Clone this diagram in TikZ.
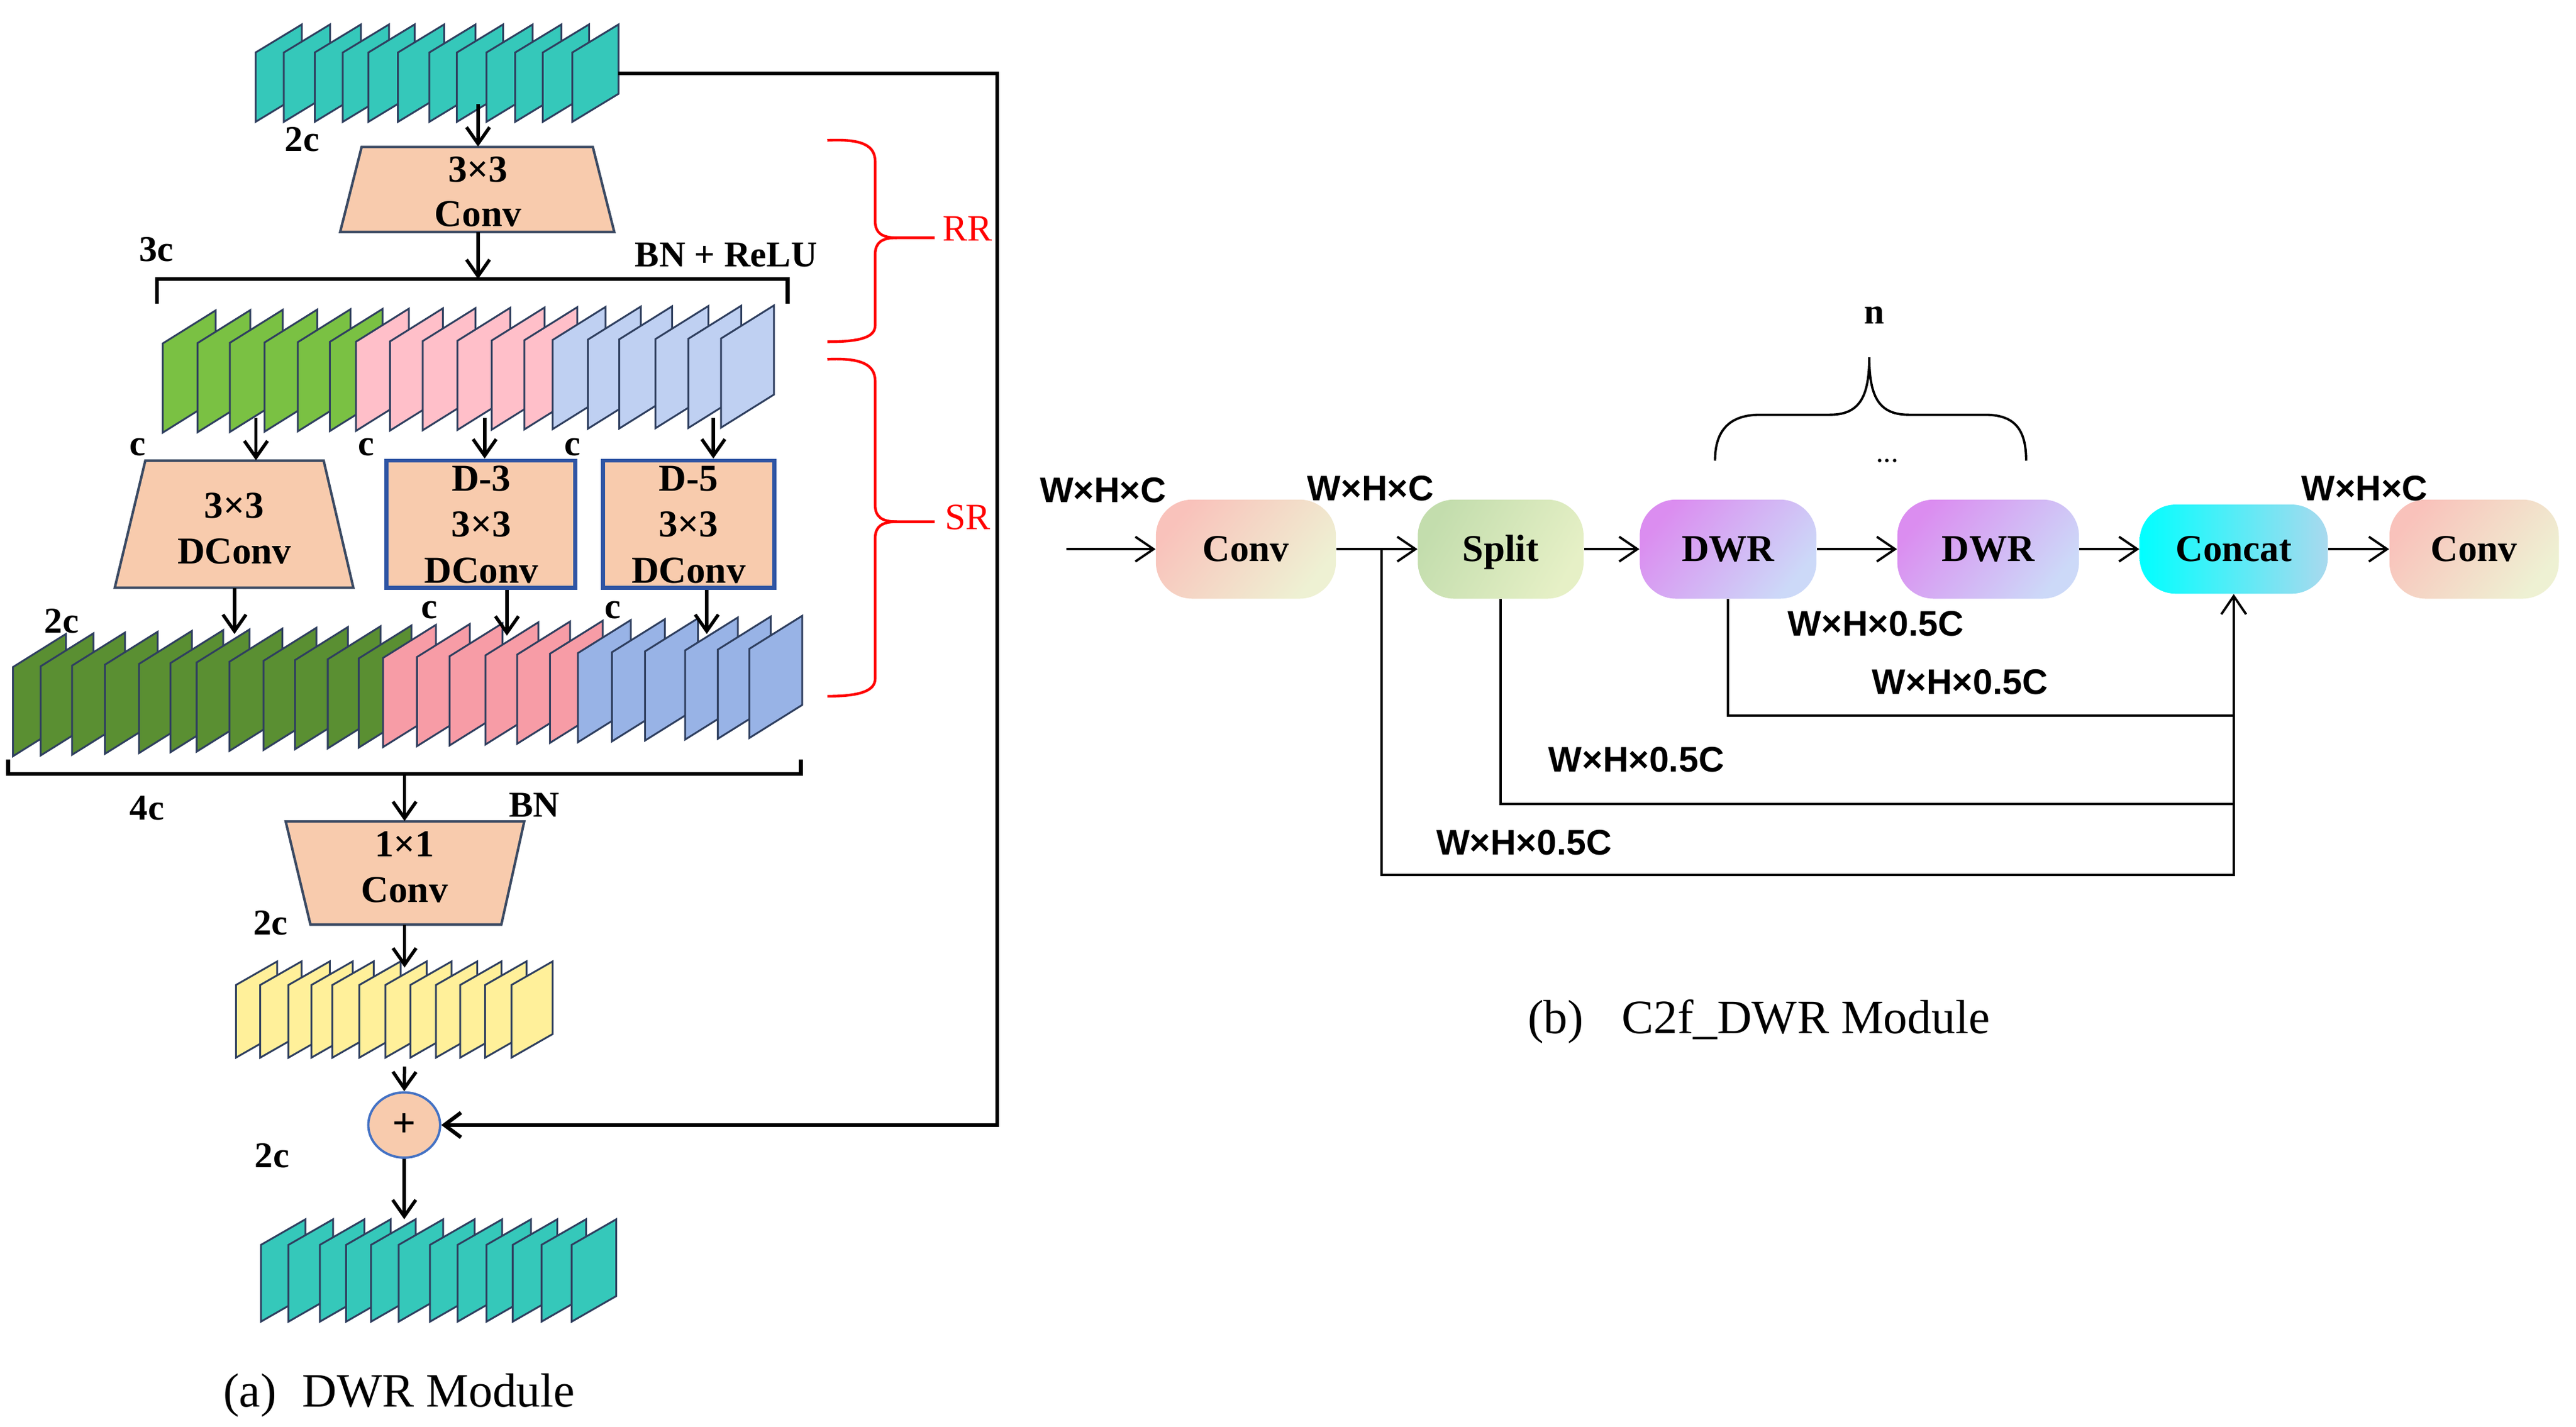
\documentclass[tikz,border=0pt]{standalone}
\usepackage{fontspec}
\setmainfont{Liberation Serif}
\newfontfamily\lsans{Liberation Sans}
\usetikzlibrary{arrows.meta,calc,shapes.geometric}
\definecolor{tealc}{HTML}{35C8BA}
\definecolor{gA}{HTML}{7AC143}
\definecolor{pA}{HTML}{FFBFC9}
\definecolor{bA}{HTML}{BFD0F2}
\definecolor{gB}{HTML}{5A8F32}
\definecolor{pB}{HTML}{F79CA6}
\definecolor{bB}{HTML}{98B3E6}
\definecolor{yA}{HTML}{FFF09A}
\definecolor{peach}{HTML}{F8CBAD}
\definecolor{sheetb}{HTML}{2F3F5F}
\definecolor{trapb}{HTML}{3B4A63}
\definecolor{boxb}{HTML}{2F55A4}
\definecolor{plusb}{HTML}{4472C4}
\definecolor{convA}{HTML}{F9C2BB}
\definecolor{convB}{HTML}{EEF1D3}
\definecolor{splitA}{HTML}{C3DDAD}
\definecolor{splitB}{HTML}{E6F0C6}
\definecolor{dwrA}{HTML}{DB8DF0}
\definecolor{dwrB}{HTML}{CCD9F8}
\definecolor{catA}{HTML}{00FFFF}
\definecolor{catB}{HTML}{A9D9EE}
\newcommand{\fmsheet}[6]{\filldraw[sheet,fill=#6] ({#1},{#2}) -- ({#1},{#2-#5}) -- ({#1+#3},{#2-#5-#4}) -- ({#1+#3},{#2-#4}) -- cycle;}
\begin{document}
\begin{tikzpicture}[x=1pt,y=-1pt,
  sheet/.style={draw=sheetb, line width=1.1pt},
  trap/.style={draw=trapb, line width=1.5pt, fill=peach},
  shapebox/.style={inner sep=0pt, minimum width=#1},
  boxtext/.style={font=\fontsize{23}{27}\selectfont\bfseries, inner sep=0pt, anchor=base},
  lab/.style={font=\fontsize{22}{26}\selectfont\bfseries, inner sep=0pt},
  dimlab/.style={font=\lsans\fontsize{21.5}{25}\selectfont\bfseries, inner sep=0pt},
  larr/.style={line width=2pt, -{Straight Barb[length=10pt,width=14pt]}},
  brk/.style={line width=2.4pt},
  skipl/.style={line width=2.3pt, -{Straight Barb[length=10pt,width=15pt]}},
  pill/.style={rounded corners=22pt, minimum height=60pt, inner sep=0pt, text height=15pt, text depth=0pt, font=\fontsize{23}{27}\selectfont\bfseries},
  rarr/.style={line width=1.4pt, -{Straight Barb[length=11pt,width=15pt]}},
  rline/.style={line width=1.4pt},
  redb/.style={red, line width=1.6pt},
  redtext/.style={red, font=\fontsize{22.5}{26}\selectfont, inner sep=0pt},
  nbr/.style={line width=1.4pt},
  caption/.style={font=\fontsize{29}{34}\selectfont, inner sep=0pt, anchor=base west}]
\useasboundingbox (0,0) rectangle (1560,864);

% ---------------- (a) DWR module ----------------
% top teal stack
\foreach \x in {154.8,171.9,190.6,207.6,223.1,241,260,276.7,294.6,312,328.7,346.6}
  {\fmsheet{\x}{73.8}{28}{17}{42}{tealc}}
\coordinate (tsbot) at (289.5,63);
\coordinate (tsright) at (374.6,44.5);

% 3x3 Conv
\draw[trap] (219,89) -- (359,89) -- (372,140.5) -- (206,140.5) -- cycle;
\node[shapebox=166pt, minimum height=51.5pt] (conv3) at (289.5,114.75) {};
\node[boxtext] (conv3a) at (289.5,110.2) {3×3};
\node[boxtext] (conv3b) at (289.5,137.3) {Conv};

% bracket 3c
\draw[brk] (95,184) -- (95,169) -- (477,169) -- (477,184);
\coordinate (br3) at (289.5,169);

% middle stack (3c)
\foreach \x/\c in {98.6/gA,119.6/gA,139.2/gA,160.2/gA,180.3/gA,199.7/gA,215.6/pA,236.2/pA,256/pA,277/pA,297.8/pA,317.6/pA,334.7/bA,356/bA,375/bA,397/bA,416.9/bA,436.7/bA}
  {\pgfmathsetmacro\yb{262-(\x-98.6)*0.0089}\fmsheet{\x}{\yb}{32}{20}{54}{\c}}
\coordinate (m1) at (155,253);
\coordinate (m2) at (293.5,253);
\coordinate (m3) at (432,253);

% DConv trapezoid
\draw[trap] (88,279) -- (196,279) -- (214,356) -- (69.5,356) -- cycle;
\node[shapebox=144.5pt, minimum height=77pt] (dconv) at (141.8,317.5) {};
\node[boxtext] (dconva) at (141.8,313.8) {3×3};
\node[boxtext] (dconvb) at (142,341.6) {DConv};

% D-3 and D-5 boxes
\node[draw=boxb, line width=2.5pt, fill=peach, inner sep=0pt, minimum width=114.5pt, minimum height=77pt] (d3) at (291.2,317.5) {};
\node[boxtext] (d3a) at (291.5,297.4) {D-3};
\node[boxtext] (d3b) at (291.5,325.2) {3×3};
\node[boxtext] (d3c) at (291.5,353) {DConv};
\node[draw=boxb, line width=2.5pt, fill=peach, inner sep=0pt, minimum width=104pt, minimum height=77pt] (d5) at (417,317.5) {};
\node[boxtext] (d5a) at (417,297.4) {D-5};
\node[boxtext] (d5b) at (417,325.2) {3×3};
\node[boxtext] (d5c) at (417,353) {DConv};

% bottom stack (4c)
\foreach \x/\c in {7.9/gB,24.6/gB,43.7/gB,63.5/gB,84.2/gB,103.2/gB,119.1/gB,139/gB,159.6/gB,178.7/gB,198.5/gB,217.2/gB,232/pB,252.5/pB,272.3/pB,294/pB,313.2/pB,333/pB,350/bB,370.6/bB,390.6/bB,414.9/bB,434.7/bB,453.8/bB}
  {\pgfmathsetmacro\yb{458-(\x-7.9)*0.0247}\fmsheet{\x}{\yb}{32}{20}{54}{\c}}
\coordinate (b1) at (142,384);
\coordinate (b2) at (307,385);
\coordinate (b3) at (428,384);

% bracket 4c
\draw[brk] (5,460) -- (5,468.7) -- (485,468.7) -- (485,460);
\coordinate (br4) at (245,468.7);

% 1x1 Conv
\draw[trap] (173,497.5) -- (317.5,497.5) -- (303.6,560) -- (188,560) -- cycle;
\node[shapebox=144.5pt, minimum height=62.5pt] (c11) at (245,528.75) {};
\node[boxtext] (c11a) at (245,519) {1×1};
\node[boxtext] (c11b) at (245,546.5) {Conv};

% yellow stack
\foreach \x in {142.9,157.6,174.7,188.6,201.3,217.6,233.4,248.5,264,278.7,293.8,309.7}
  {\fmsheet{\x}{640.6}{25}{14.3}{44}{yA}}
\coordinate (ytop) at (245,586);
\coordinate (ybot) at (245,646);

% plus
\node[ellipse, draw=plusb, line width=1.4pt, fill=peach, minimum width=43.5pt, minimum height=39.5pt, inner sep=0pt, font=\fontsize{25}{28}\selectfont\bfseries] (plus) at (244.8,681.4) {+};

% bottom teal stack
\foreach \x in {158,174.7,193.7,209.6,224.7,241.4,260.4,277.1,294.6,310.5,327.9,346.2}
  {\fmsheet{\x}{800.5}{27}{15.5}{46.5}{tealc}}
\coordinate (outtop) at (244.8,738.5);

% arrows (a)
\draw[larr] (tsbot) -- (conv3.north);
\draw[larr] (conv3.south) -- (br3);
\draw[larr] (m1) -- (m1 |- dconv.north);
\draw[larr] (m2) -- (m2 |- d3.north);
\draw[larr] (m3) -- (m3 |- d5.north);
\draw[larr] (b1 |- dconv.south) -- (b1);
\draw[larr] (b2 |- d3.south) -- (b2);
\draw[larr] (b3 |- d5.south) -- (b3);
\draw[larr] (br4) -- (c11.north);
\draw[larr] (c11.south) -- (ytop);
\draw[larr] (ybot) -- (plus.north);
\draw[larr] (plus.south) -- (outtop);
\coordinate (skipc) at (604,360);
\draw[skipl] (tsright) -| (skipc) |- (plus);

% labels (a)
\node[lab] (l2ca) at (183,84.5) {2c};
\node[lab] (l3c) at (94.7,151) {3c};
\node[lab] (lbnr) at (439.7,154.3) {BN + ReLU};
\node[lab] (lc1) at (83.4,271) {c};
\node[lab] (lc2) at (221.7,271) {c};
\node[lab] (lc3) at (346.7,271) {c};
\node[lab] (l2cb) at (37.3,376.2) {2c};
\node[lab] (lc4) at (260,369.7) {c};
\node[lab] (lc5) at (371,369.7) {c};
\node[lab] (l4c) at (89,489.5) {4c};
\node[lab] (lbn) at (323.5,487.8) {BN};
\node[lab] (l2cc) at (163.8,559) {2c};
\node[lab] (l2cd) at (164.8,699.8) {2c};

% red braces
\draw[redb] (501,85) .. controls (522,84) and (530,88) .. (530,98) -- (530,134) .. controls (530,141) and (534,144) .. (543,144) -- (566,144);
\draw[redb] (543,144) .. controls (534,144) and (530,147) .. (530,154) -- (530,197) .. controls (530,204) and (522,207) .. (501,207);
\node[redtext] (rr) at (586,138.5) {RR};
\draw[redb] (501,217.6) .. controls (522,216.6) and (530,221) .. (530,231) -- (530,306) .. controls (530,313) and (534,316) .. (543,316) -- (566,316);
\draw[redb] (543,316) .. controls (534,316) and (530,319) .. (530,326) -- (530,411) .. controls (530,418) and (522,421.7) .. (501,421.7);
\node[redtext] (sr) at (586,313.5) {SR};

\node[caption] (capa) at (135,852) {(a)\hspace{15.8pt}DWR Module};

% ---------------- (b) C2f_DWR module ----------------
\node[pill, minimum width=109pt, left color=convA, right color=convB, shading angle=50] (conv1r) at (754.5,332.6) {Conv};
\node[pill, minimum width=100.4pt, left color=splitA, right color=splitB, shading angle=60] (split) at (908.8,332.6) {Split};
\node[pill, minimum width=107pt, left color=dwrA, right color=dwrB, shading angle=50] (dwr1) at (1046.5,332.6) {DWR};
\node[pill, minimum width=110pt, left color=dwrA, right color=dwrB, shading angle=50] (dwr2) at (1204,332.6) {DWR};
\node[pill, minimum width=114pt, minimum height=54pt, left color=catA, right color=catB] (concat) at (1352.7,332.6) {Concat};
\node[pill, minimum width=102.6pt, left color=convA, right color=convB, shading angle=50] (conv2r) at (1498.3,332.6) {Conv};

\coordinate (inp) at (645.7,332.6);
\coordinate (fb1) at (836.6,332.6);
\coordinate (y1) at (0,433.5);
\coordinate (y2) at (0,487);
\coordinate (y3) at (0,530);

\draw[rarr] (inp) -- (conv1r.west);
\draw[rarr] (conv1r.east) -- (split.west);
\draw[rarr] (split.east) -- (dwr1.west);
\draw[rarr] (dwr1.east) -- (dwr2.west);
\draw[rarr] (dwr2.east) -- (concat.west);
\draw[rarr] (concat.east) -- (conv2r.west);
\draw[rline] (dwr1.south) |- (concat.south |- y1);
\draw[rline] (split.south) |- (concat.south |- y2);
\draw[rarr] (fb1) |- (concat.south |- y3) -- (concat.south);

\node[dimlab] (wa) at (668,296.8) {W×H×C};
\node[dimlab] (wb) at (830,296) {W×H×C};
\node[dimlab] (wc) at (1432,296) {W×H×C};
\node[dimlab] (wd) at (1136,377.7) {W×H×0.5C};
\node[dimlab] (we) at (1187,413) {W×H×0.5C};
\node[dimlab] (wf) at (991,460) {W×H×0.5C};
\node[dimlab] (wg) at (923,510.5) {W×H×0.5C};

% brace n
\draw[nbr] (1038.6,279) .. controls (1038.6,260) and (1048,251.2) .. (1066,251.2) -- (1108,251.2) .. controls (1125,251.2) and (1132,242) .. (1132,216.5);
\draw[nbr] (1132,216.5) .. controls (1132,242) and (1139,251.2) .. (1156,251.2) -- (1202,251.2) .. controls (1220,251.2) and (1227,260) .. (1227,279);
\node[lab] (nlab) at (1135,190.8) {n};
\node[font=\fontsize{18}{20}\selectfont, inner sep=0pt, anchor=base] (dots) at (1143,280) {...};

\node[caption] (capb) at (925,626) {(b)\hspace{23pt}C2f\_DWR Module};
\end{tikzpicture}
\end{document}
